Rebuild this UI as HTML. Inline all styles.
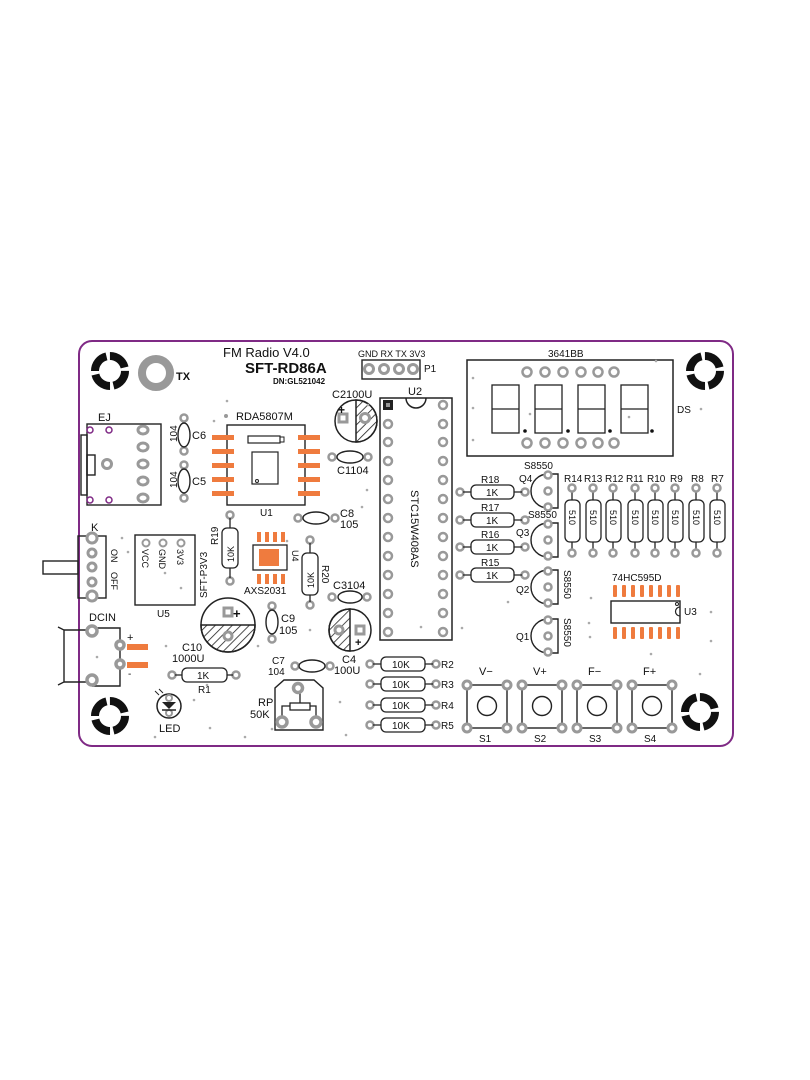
<!DOCTYPE html>
<html><head><meta charset="utf-8"><style>
html,body{margin:0;padding:0;background:#fff}
svg{display:block}
text{font-family:"Liberation Sans","DejaVu Sans",sans-serif;fill:#111}
</style></head><body>
<svg width="810" height="1080" viewBox="0 0 810 1080" xmlns="http://www.w3.org/2000/svg">
<defs>
<pattern id="h" width="6" height="6" patternUnits="userSpaceOnUse" patternTransform="rotate(45)"><line x1="0" y1="0" x2="0" y2="6" stroke="#222" stroke-width="1.6"/></pattern>
</defs>
<rect x="79" y="341" width="654" height="405" rx="13" fill="#fff" stroke="#7f2a85" stroke-width="2"/>

<!-- mounting holes -->
<g fill="none">
<circle cx="110" cy="371" r="15" stroke="#111" stroke-width="8" stroke-dasharray="20 3.5"/>
<circle cx="705" cy="371" r="15" stroke="#111" stroke-width="8" stroke-dasharray="20 3.5"/>
<circle cx="110" cy="716" r="15" stroke="#111" stroke-width="8" stroke-dasharray="20 3.5"/>
<circle cx="700" cy="712" r="15" stroke="#111" stroke-width="8" stroke-dasharray="20 3.5"/>
<circle cx="156" cy="373" r="14" stroke="#999" stroke-width="8"/>
</g>
<text x="176" y="380" font-size="11" font-weight="bold">TX</text>

<text x="223" y="357" font-size="13">FM Radio V4.0</text>
<text x="245" y="373" font-size="15" font-weight="bold">SFT-RD86A</text>
<text x="273" y="384" font-size="8" font-weight="bold">DN:GL521042</text>

<!-- P1 -->
<text x="358" y="357" font-size="9">GND RX TX 3V3</text>
<rect x="362" y="360" width="58" height="19" fill="none" stroke="#222" stroke-width="1.4"/>
<g fill="none" stroke="#999" stroke-width="3">
<circle cx="369" cy="369" r="4.5"/><circle cx="384" cy="369" r="4.5"/><circle cx="399" cy="369" r="4.5"/><circle cx="413" cy="369" r="4.5"/>
</g>
<text x="424" y="372" font-size="10">P1</text>

<!-- C2 -->
<text x="332" y="398" font-size="11">C2100U</text>
<circle cx="356" cy="421" r="21" fill="#fff" stroke="#222" stroke-width="1.5"/>
<path d="M356 400 A21 21 0 0 1 356 442 Z" fill="url(#h)" stroke="#222" stroke-width="1.5"/>
<rect x="339" y="414" width="8" height="8" fill="none" stroke="#999" stroke-width="3"/>
<circle cx="365" cy="418" r="4.5" fill="#fff" stroke="#999" stroke-width="3"/>
<text x="338" y="414" font-size="12" font-weight="bold">+</text>

<!-- U2 -->
<text x="408" y="395" font-size="11">U2</text>
<rect x="380" y="398" width="72" height="242" fill="none" stroke="#222" stroke-width="1.5"/>
<path d="M406 398 A10 10 0 0 0 426 398" fill="none" stroke="#222" stroke-width="1.5"/>
<rect x="383" y="400" width="10" height="10" fill="#222"/>
<rect x="386" y="403" width="4" height="4" fill="#999"/>
<g fill="none" stroke="#999" stroke-width="2.5">
<circle cx="388" cy="424" r="4"/><circle cx="388" cy="442" r="4"/><circle cx="388" cy="461" r="4"/><circle cx="388" cy="480" r="4"/><circle cx="388" cy="499" r="4"/><circle cx="388" cy="518" r="4"/><circle cx="388" cy="537" r="4"/><circle cx="388" cy="556" r="4"/><circle cx="388" cy="575" r="4"/><circle cx="388" cy="594" r="4"/><circle cx="388" cy="613" r="4"/><circle cx="388" cy="632" r="4"/>
<circle cx="443" cy="405" r="4"/><circle cx="443" cy="424" r="4"/><circle cx="443" cy="442" r="4"/><circle cx="443" cy="461" r="4"/><circle cx="443" cy="480" r="4"/><circle cx="443" cy="499" r="4"/><circle cx="443" cy="518" r="4"/><circle cx="443" cy="537" r="4"/><circle cx="443" cy="556" r="4"/><circle cx="443" cy="575" r="4"/><circle cx="443" cy="594" r="4"/><circle cx="443" cy="613" r="4"/><circle cx="443" cy="632" r="4"/>
</g>
<text transform="translate(411,490) rotate(90)" font-size="11">STC15W408AS</text>

<!-- Display -->
<text x="548" y="357" font-size="10">3641BB</text>
<rect x="467" y="360" width="206" height="96" fill="none" stroke="#222" stroke-width="1.5"/>
<g fill="none" stroke="#999" stroke-width="2.5">
<circle cx="527" cy="372" r="4.5"/><circle cx="545" cy="372" r="4.5"/><circle cx="563" cy="372" r="4.5"/><circle cx="581" cy="372" r="4.5"/><circle cx="598" cy="372" r="4.5"/><circle cx="614" cy="372" r="4.5"/>
<circle cx="527" cy="443" r="4.5"/><circle cx="545" cy="443" r="4.5"/><circle cx="563" cy="443" r="4.5"/><circle cx="581" cy="443" r="4.5"/><circle cx="598" cy="443" r="4.5"/><circle cx="614" cy="443" r="4.5"/>
</g>
<g fill="none" stroke="#222" stroke-width="1.3">
<rect x="492" y="385" width="27" height="48"/><line x1="492" y1="409" x2="519" y2="409"/>
<rect x="535" y="385" width="27" height="48"/><line x1="535" y1="409" x2="562" y2="409"/>
<rect x="578" y="385" width="27" height="48"/><line x1="578" y1="409" x2="605" y2="409"/>
<rect x="621" y="385" width="27" height="48"/><line x1="621" y1="409" x2="648" y2="409"/>
</g>
<g fill="#111"><circle cx="525" cy="431" r="1.8"/><circle cx="568" cy="431" r="1.8"/><circle cx="610" cy="431" r="1.8"/><circle cx="652" cy="431" r="1.8"/></g>
<text x="677" y="413" font-size="10">DS</text>

<!-- EJ -->
<text x="98" y="421" font-size="11">EJ</text>
<g fill="none" stroke="#222" stroke-width="1.4">
<rect x="87" y="424" width="74" height="81"/>
<rect x="81" y="435" width="6" height="60"/>
<rect x="87" y="455" width="8" height="20"/>
</g>
<g fill="none" stroke="#7f2a85" stroke-width="1.5"><circle cx="90" cy="430" r="3"/><circle cx="109" cy="430" r="3"/><circle cx="90" cy="500" r="3"/><circle cx="109" cy="500" r="3"/></g>
<g fill="none" stroke="#999" stroke-width="3">
<circle cx="107" cy="464" r="4.5"/>
<ellipse cx="143" cy="430" rx="5" ry="4"/><ellipse cx="143" cy="447" rx="5" ry="4"/><ellipse cx="143" cy="464" rx="5" ry="4"/><ellipse cx="143" cy="481" rx="5" ry="4"/><ellipse cx="143" cy="498" rx="5" ry="4"/>
</g>

<!-- C6 C5 -->
<g fill="none" stroke="#999" stroke-width="2.5"><circle cx="184" cy="418" r="3.5"/><circle cx="184" cy="451" r="3.5"/><circle cx="184" cy="465" r="3.5"/><circle cx="184" cy="498" r="3.5"/></g>
<g fill="none" stroke="#222" stroke-width="1.4"><ellipse cx="184" cy="435" rx="6" ry="12"/><ellipse cx="184" cy="481" rx="6" ry="12"/></g>
<text transform="translate(177,442) rotate(-90)" font-size="10">104</text>
<text transform="translate(177,488) rotate(-90)" font-size="10">104</text>
<text x="192" y="439" font-size="11">C6</text>
<text x="192" y="485" font-size="11">C5</text>

<!-- U1 -->
<text x="236" y="420" font-size="11">RDA5807M</text>
<circle cx="226" cy="416" r="2" fill="#999"/>
<rect x="227" y="425" width="78" height="80" fill="none" stroke="#222" stroke-width="1.4"/>
<rect x="248" y="436" width="32" height="7" fill="none" stroke="#222" stroke-width="1.2"/>
<rect x="280" y="437" width="4" height="5" fill="none" stroke="#222" stroke-width="1"/>
<rect x="252" y="452" width="26" height="32" fill="none" stroke="#222" stroke-width="1.2"/>
<circle cx="257" cy="481" r="1.5" fill="none" stroke="#222"/>
<g fill="#ef7b3e">
<rect x="212" y="435" width="22" height="5"/><rect x="212" y="449" width="22" height="5"/><rect x="212" y="463" width="22" height="5"/><rect x="212" y="477" width="22" height="5"/><rect x="212" y="491" width="22" height="5"/>
<rect x="298" y="435" width="22" height="5"/><rect x="298" y="449" width="22" height="5"/><rect x="298" y="463" width="22" height="5"/><rect x="298" y="477" width="22" height="5"/><rect x="298" y="491" width="22" height="5"/>
</g>
<text x="260" y="516" font-size="10">U1</text>

<!-- C1 -->
<g fill="none" stroke="#999" stroke-width="2.5"><circle cx="332" cy="457" r="3.5"/><circle cx="368" cy="457" r="3.5"/><circle cx="298" cy="518" r="3.5"/><circle cx="335" cy="518" r="3.5"/><circle cx="332" cy="597" r="3.5"/><circle cx="367" cy="597" r="3.5"/><circle cx="272" cy="606" r="3.5"/><circle cx="272" cy="639" r="3.5"/><circle cx="295" cy="666" r="3.5"/><circle cx="330" cy="666" r="3.5"/></g>
<g fill="none" stroke="#222" stroke-width="1.4">
<ellipse cx="350" cy="457" rx="13" ry="6"/><ellipse cx="316" cy="518" rx="13" ry="6"/><ellipse cx="350" cy="597" rx="12" ry="6"/><ellipse cx="272" cy="622" rx="6" ry="12"/><ellipse cx="312" cy="666" rx="13" ry="6"/>
</g>
<text x="337" y="474" font-size="11">C1104</text>
<text x="340" y="517" font-size="11">C8</text><text x="340" y="528" font-size="11">105</text>
<text x="333" y="589" font-size="11">C3104</text>
<text x="281" y="622" font-size="11">C9</text><text x="279" y="634" font-size="11">105</text>
<text x="272" y="664" font-size="10">C7</text><text x="268" y="675" font-size="10">104</text>

<!-- K -->
<text x="91" y="531" font-size="11">K</text>
<rect x="78" y="536" width="28" height="62" fill="none" stroke="#222" stroke-width="1.4"/>
<rect x="43" y="561" width="35" height="13" fill="none" stroke="#222" stroke-width="1.4"/>
<g fill="#fff" stroke="#999" stroke-width="3"><circle cx="92" cy="538" r="5"/><circle cx="92" cy="553" r="4"/><circle cx="92" cy="567" r="4"/><circle cx="92" cy="582" r="4"/><circle cx="92" cy="596" r="5"/></g>
<text transform="translate(111,549) rotate(90)" font-size="9">ON</text>
<text transform="translate(111,572) rotate(90)" font-size="9">OFF</text>

<!-- U5 -->
<rect x="135" y="535" width="60" height="70" fill="none" stroke="#222" stroke-width="1.4"/>
<g fill="none" stroke="#999" stroke-width="2"><circle cx="146" cy="543" r="3.5"/><circle cx="163" cy="543" r="3.5"/><circle cx="181" cy="543" r="3.5"/></g>
<text transform="translate(142,549) rotate(90)" font-size="9">VCC</text>
<text transform="translate(159,549) rotate(90)" font-size="9">GND</text>
<text transform="translate(177,549) rotate(90)" font-size="9">3V3</text>
<text transform="translate(207,598) rotate(-90)" font-size="10">SFT-P3V3</text>
<text x="157" y="617" font-size="10">U5</text>

<!-- R19 U4 R20 -->
<g fill="none" stroke="#999" stroke-width="2.5"><circle cx="230" cy="515" r="3.5"/><circle cx="230" cy="581" r="3.5"/><circle cx="310" cy="540" r="3.5"/><circle cx="310" cy="605" r="3.5"/></g>
<line x1="230" y1="518" x2="230" y2="578" stroke="#222" stroke-width="1.3"/>
<line x1="310" y1="543" x2="310" y2="602" stroke="#222" stroke-width="1.3"/>
<rect x="222" y="528" width="16" height="40" rx="5" fill="#fff" stroke="#222" stroke-width="1.3"/>
<rect x="302" y="553" width="16" height="42" rx="5" fill="#fff" stroke="#222" stroke-width="1.3"/>
<text transform="translate(234,562) rotate(-90)" font-size="9">10K</text>
<text transform="translate(314,588) rotate(-90)" font-size="9">10K</text>
<text transform="translate(218,545) rotate(-90)" font-size="10">R19</text>
<text transform="translate(322,565) rotate(90)" font-size="10">R20</text>
<rect x="253" y="545" width="34" height="25" fill="none" stroke="#222" stroke-width="1.3"/>
<rect x="259" y="549" width="20" height="17" fill="#ef7b3e"/>
<g fill="#ef7b3e"><rect x="257" y="532" width="4" height="10"/><rect x="265" y="532" width="4" height="10"/><rect x="273" y="532" width="4" height="10"/><rect x="281" y="532" width="4" height="10"/><rect x="257" y="574" width="4" height="10"/><rect x="265" y="574" width="4" height="10"/><rect x="273" y="574" width="4" height="10"/><rect x="281" y="574" width="4" height="10"/></g>
<text transform="translate(292,550) rotate(90)" font-size="9">U4</text>
<text x="244" y="594" font-size="10">AXS2031</text>

<!-- C10 -->
<circle cx="228" cy="625" r="27" fill="#fff" stroke="#222" stroke-width="1.5"/>
<path d="M201 625 A27 27 0 0 0 255 625 Z" fill="url(#h)" stroke="#222" stroke-width="1.5"/>
<rect x="224" y="608" width="8" height="8" fill="#fff" stroke="#999" stroke-width="3"/>
<circle cx="228" cy="636" r="4" fill="#fff" stroke="#999" stroke-width="3"/>
<text x="233" y="618" font-size="13" font-weight="bold">+</text>
<text x="182" y="651" font-size="11">C10</text><text x="172" y="662" font-size="11">1000U</text>

<!-- C4 -->
<circle cx="350" cy="630" r="21" fill="#fff" stroke="#222" stroke-width="1.5"/>
<path d="M350 609 A21 21 0 0 0 350 651 Z" fill="url(#h)" stroke="#222" stroke-width="1.5"/>
<circle cx="339" cy="630" r="4" fill="#fff" stroke="#999" stroke-width="3"/>
<rect x="356" y="626" width="8" height="8" fill="#fff" stroke="#999" stroke-width="3"/>
<text x="355" y="646" font-size="11" font-weight="bold">+</text>
<text x="342" y="663" font-size="11">C4</text><text x="334" y="674" font-size="11">100U</text>

<!-- DCIN -->
<text x="89" y="621" font-size="11">DCIN</text>
<g fill="none" stroke="#222" stroke-width="1.4">
<polyline points="92,628 120,628 120,686 92,686"/>
<path d="M58 627 L64 630 L64 682 L58 685"/>
<line x1="64" y1="630" x2="92" y2="630"/><line x1="64" y1="682" x2="92" y2="682"/>
</g>
<g fill="#fff" stroke="#999" stroke-width="3.5"><circle cx="92" cy="631" r="5"/><circle cx="92" cy="680" r="5"/><circle cx="120" cy="645" r="4"/><circle cx="120" cy="664" r="4"/></g>
<rect x="127" y="644" width="21" height="6" fill="#ef7b3e"/><rect x="127" y="662" width="21" height="6" fill="#ef7b3e"/>
<text x="127" y="641" font-size="11">+</text><text x="128" y="677" font-size="10">-</text>

<!-- R1 -->
<g fill="none" stroke="#999" stroke-width="2.5"><circle cx="172" cy="675" r="3.5"/><circle cx="236" cy="675" r="3.5"/></g>
<line x1="175" y1="675" x2="233" y2="675" stroke="#222" stroke-width="1.3"/>
<rect x="182" y="668" width="45" height="14" rx="5" fill="#fff" stroke="#222" stroke-width="1.3"/>
<text x="197" y="679" font-size="10">1K</text>
<text x="198" y="693" font-size="10">R1</text>

<!-- LED -->
<circle cx="169" cy="706" r="12" fill="none" stroke="#222" stroke-width="1.5"/>
<circle cx="169" cy="698" r="3" fill="none" stroke="#999" stroke-width="2"/>
<circle cx="169" cy="713" r="3" fill="none" stroke="#999" stroke-width="2"/>
<path d="M162 702 L176 702 L169 709 Z" fill="#222"/><line x1="162" y1="710" x2="176" y2="710" stroke="#222" stroke-width="1.5"/>
<line x1="155" y1="691" x2="159" y2="695" stroke="#222"/><line x1="159" y1="689" x2="163" y2="693" stroke="#222"/>
<text x="159" y="732" font-size="11">LED</text>

<!-- RP -->
<path d="M275 730 L275 688 L284 680 L314 680 L323 688 L323 730 Z" fill="none" stroke="#222" stroke-width="1.4"/>
<rect x="290" y="703" width="20" height="7" fill="none" stroke="#222" stroke-width="1.3"/>
<polyline points="282,718 282,706 290,706" fill="none" stroke="#222" stroke-width="1.3"/>
<polyline points="316,718 316,706 310,706" fill="none" stroke="#222" stroke-width="1.3"/>
<line x1="300" y1="692" x2="300" y2="703" stroke="#222" stroke-width="1.3"/>
<g fill="#fff" stroke="#999" stroke-width="3.5"><circle cx="298" cy="688" r="4.5"/><circle cx="282" cy="722" r="5"/><circle cx="316" cy="722" r="5"/></g>
<text x="258" y="706" font-size="11">RP</text><text x="250" y="718" font-size="11">50K</text>

<!-- R2-R5 -->
<g fill="none" stroke="#999" stroke-width="2.5">
<circle cx="370" cy="664" r="3.5"/><circle cx="436" cy="664" r="3.5"/><circle cx="370" cy="684" r="3.5"/><circle cx="436" cy="684" r="3.5"/><circle cx="370" cy="705" r="3.5"/><circle cx="436" cy="705" r="3.5"/><circle cx="370" cy="725" r="3.5"/><circle cx="436" cy="725" r="3.5"/>
</g>
<g stroke="#222" stroke-width="1.3"><line x1="373" y1="664" x2="433" y2="664"/><line x1="373" y1="684" x2="433" y2="684"/><line x1="373" y1="705" x2="433" y2="705"/><line x1="373" y1="725" x2="433" y2="725"/></g>
<g fill="#fff" stroke="#222" stroke-width="1.3"><rect x="381" y="657" width="44" height="14" rx="5"/><rect x="381" y="677" width="44" height="14" rx="5"/><rect x="381" y="698" width="44" height="14" rx="5"/><rect x="381" y="718" width="44" height="14" rx="5"/></g>
<g font-size="10"><text x="392" y="668">10K</text><text x="392" y="688">10K</text><text x="392" y="709">10K</text><text x="392" y="729">10K</text></g>
<g font-size="10"><text x="441" y="668">R2</text><text x="441" y="688">R3</text><text x="441" y="709">R4</text><text x="441" y="729">R5</text></g>

<!-- R15-R18 -->
<g fill="none" stroke="#999" stroke-width="2.5">
<circle cx="460" cy="492" r="3.5"/><circle cx="525" cy="492" r="3.5"/><circle cx="460" cy="520" r="3.5"/><circle cx="525" cy="520" r="3.5"/><circle cx="460" cy="547" r="3.5"/><circle cx="525" cy="547" r="3.5"/><circle cx="460" cy="575" r="3.5"/><circle cx="525" cy="575" r="3.5"/>
</g>
<g stroke="#222" stroke-width="1.3"><line x1="463" y1="492" x2="522" y2="492"/><line x1="463" y1="520" x2="522" y2="520"/><line x1="463" y1="547" x2="522" y2="547"/><line x1="463" y1="575" x2="522" y2="575"/></g>
<g fill="#fff" stroke="#222" stroke-width="1.3"><rect x="471" y="485" width="43" height="14" rx="5"/><rect x="471" y="513" width="43" height="14" rx="5"/><rect x="471" y="540" width="43" height="14" rx="5"/><rect x="471" y="568" width="43" height="14" rx="5"/></g>
<g font-size="10"><text x="486" y="496">1K</text><text x="486" y="524">1K</text><text x="486" y="551">1K</text><text x="486" y="579">1K</text></g>
<g font-size="10"><text x="481" y="483">R18</text><text x="481" y="511">R17</text><text x="481" y="538">R16</text><text x="481" y="566">R15</text></g>

<!-- Transistors -->
<g fill="none" stroke="#222" stroke-width="1.4">
<path d="M548 474 A17 17 0 0 0 548 508 L558 508 L558 474 Z"/>
<path d="M548 523 A17 17 0 0 0 548 557 L558 557 L558 523 Z"/>
<path d="M548 570 A17 17 0 0 0 548 604 L558 604 L558 570 Z"/>
<path d="M548 619 A17 17 0 0 0 548 653 L558 653 L558 619 Z"/>
</g>
<g fill="#fff" stroke="#999" stroke-width="2.5">
<circle cx="548" cy="475" r="3.5"/><circle cx="548" cy="491" r="3.5"/><circle cx="548" cy="507" r="3.5"/>
<circle cx="548" cy="524" r="3.5"/><circle cx="548" cy="540" r="3.5"/><circle cx="548" cy="556" r="3.5"/>
<circle cx="548" cy="571" r="3.5"/><circle cx="548" cy="587" r="3.5"/><circle cx="548" cy="603" r="3.5"/>
<circle cx="548" cy="620" r="3.5"/><circle cx="548" cy="636" r="3.5"/><circle cx="548" cy="652" r="3.5"/>
</g>
<g font-size="10">
<text x="524" y="469">S8550</text><text x="519" y="482">Q4</text>
<text x="528" y="518">S8550</text><text x="516" y="536">Q3</text>
<text x="516" y="593">Q2</text><text x="516" y="640">Q1</text>
</g>
<text transform="translate(564,570) rotate(90)" font-size="10">S8550</text>
<text transform="translate(564,618) rotate(90)" font-size="10">S8550</text>

<!-- R7-R14 -->
<g font-size="10"><text x="564" y="482">R14</text><text x="584" y="482">R13</text><text x="605" y="482">R12</text><text x="626" y="482">R11</text><text x="647" y="482">R10</text><text x="670" y="482">R9</text><text x="691" y="482">R8</text><text x="711" y="482">R7</text></g>
<g stroke="#222" stroke-width="1.3">
<line x1="572" y1="490" x2="572" y2="552"/><line x1="593" y1="490" x2="593" y2="552"/><line x1="613" y1="490" x2="613" y2="552"/><line x1="635" y1="490" x2="635" y2="552"/><line x1="655" y1="490" x2="655" y2="552"/><line x1="675" y1="490" x2="675" y2="552"/><line x1="696" y1="490" x2="696" y2="552"/><line x1="717" y1="490" x2="717" y2="552"/>
</g>
<g fill="#fff" stroke="#222" stroke-width="1.3">
<rect x="565" y="500" width="15" height="42" rx="5"/><rect x="586" y="500" width="15" height="42" rx="5"/><rect x="606" y="500" width="15" height="42" rx="5"/><rect x="628" y="500" width="15" height="42" rx="5"/><rect x="648" y="500" width="15" height="42" rx="5"/><rect x="668" y="500" width="15" height="42" rx="5"/><rect x="689" y="500" width="15" height="42" rx="5"/><rect x="710" y="500" width="15" height="42" rx="5"/>
</g>
<g fill="#fff" stroke="#999" stroke-width="2.5">
<circle cx="572" cy="488" r="3.5"/><circle cx="593" cy="488" r="3.5"/><circle cx="613" cy="488" r="3.5"/><circle cx="635" cy="488" r="3.5"/><circle cx="655" cy="488" r="3.5"/><circle cx="675" cy="488" r="3.5"/><circle cx="696" cy="488" r="3.5"/><circle cx="717" cy="488" r="3.5"/>
<circle cx="572" cy="553" r="3.5"/><circle cx="593" cy="553" r="3.5"/><circle cx="613" cy="553" r="3.5"/><circle cx="635" cy="553" r="3.5"/><circle cx="655" cy="553" r="3.5"/><circle cx="675" cy="553" r="3.5"/><circle cx="696" cy="553" r="3.5"/><circle cx="717" cy="553" r="3.5"/>
</g>
<g font-size="9">
<text transform="translate(569,510) rotate(90)">510</text><text transform="translate(590,510) rotate(90)">510</text><text transform="translate(610,510) rotate(90)">510</text><text transform="translate(632,510) rotate(90)">510</text><text transform="translate(652,510) rotate(90)">510</text><text transform="translate(672,510) rotate(90)">510</text><text transform="translate(693,510) rotate(90)">510</text><text transform="translate(714,510) rotate(90)">510</text>
</g>

<!-- U3 -->
<text x="612" y="581" font-size="10">74HC595D</text>
<rect x="611" y="601" width="69" height="22" fill="none" stroke="#222" stroke-width="1.4"/>
<path d="M680 607 A4 4 0 0 0 680 616" fill="none" stroke="#222" stroke-width="1.2"/>
<circle cx="677" cy="604" r="1.5" fill="none" stroke="#222"/>
<g fill="#ef7b3e">
<rect x="613" y="585" width="4" height="12" rx="1"/><rect x="622" y="585" width="4" height="12" rx="1"/><rect x="631" y="585" width="4" height="12" rx="1"/><rect x="640" y="585" width="4" height="12" rx="1"/><rect x="649" y="585" width="4" height="12" rx="1"/><rect x="658" y="585" width="4" height="12" rx="1"/><rect x="667" y="585" width="4" height="12" rx="1"/><rect x="676" y="585" width="4" height="12" rx="1"/>
<rect x="613" y="627" width="4" height="12" rx="1"/><rect x="622" y="627" width="4" height="12" rx="1"/><rect x="631" y="627" width="4" height="12" rx="1"/><rect x="640" y="627" width="4" height="12" rx="1"/><rect x="649" y="627" width="4" height="12" rx="1"/><rect x="658" y="627" width="4" height="12" rx="1"/><rect x="667" y="627" width="4" height="12" rx="1"/><rect x="676" y="627" width="4" height="12" rx="1"/>
</g>
<text x="684" y="615" font-size="10">U3</text>

<!-- Buttons -->
<g fill="none" stroke="#222" stroke-width="1.4">
<rect x="467" y="685" width="40" height="43"/><circle cx="487" cy="706" r="9.5"/>
<rect x="522" y="685" width="40" height="43"/><circle cx="542" cy="706" r="9.5"/>
<rect x="577" y="685" width="40" height="43"/><circle cx="597" cy="706" r="9.5"/>
<rect x="632" y="685" width="40" height="43"/><circle cx="652" cy="706" r="9.5"/>
</g>
<g fill="#fff" stroke="#999" stroke-width="3">
<circle cx="467" cy="685" r="4"/><circle cx="507" cy="685" r="4"/><circle cx="467" cy="728" r="4"/><circle cx="507" cy="728" r="4"/>
<circle cx="522" cy="685" r="4"/><circle cx="562" cy="685" r="4"/><circle cx="522" cy="728" r="4"/><circle cx="562" cy="728" r="4"/>
<circle cx="577" cy="685" r="4"/><circle cx="617" cy="685" r="4"/><circle cx="577" cy="728" r="4"/><circle cx="617" cy="728" r="4"/>
<circle cx="632" cy="685" r="4"/><circle cx="672" cy="685" r="4"/><circle cx="632" cy="728" r="4"/><circle cx="672" cy="728" r="4"/>
</g>
<g font-size="11"><text x="479" y="675">V−</text><text x="533" y="675">V+</text><text x="588" y="675">F−</text><text x="643" y="675">F+</text></g>
<g font-size="10"><text x="479" y="742">S1</text><text x="534" y="742">S2</text><text x="589" y="742">S3</text><text x="644" y="742">S4</text></g>

<!-- vias -->
<g fill="#aaa">
<circle cx="214" cy="421" r="1.3"/><circle cx="227" cy="401" r="1.3"/><circle cx="368" cy="405" r="1.3"/><circle cx="367" cy="490" r="1.3"/><circle cx="362" cy="507" r="1.3"/><circle cx="287" cy="541" r="1.3"/><circle cx="122" cy="538" r="1.3"/><circle cx="128" cy="552" r="1.3"/><circle cx="165" cy="573" r="1.3"/><circle cx="181" cy="588" r="1.3"/><circle cx="97" cy="657" r="1.3"/><circle cx="166" cy="646" r="1.3"/><circle cx="258" cy="646" r="1.3"/><circle cx="207" cy="685" r="1.3"/><circle cx="194" cy="700" r="1.3"/><circle cx="210" cy="728" r="1.3"/><circle cx="155" cy="737" r="1.3"/><circle cx="245" cy="737" r="1.3"/><circle cx="340" cy="702" r="1.3"/><circle cx="346" cy="735" r="1.3"/><circle cx="272" cy="729" r="1.3"/><circle cx="310" cy="630" r="1.3"/><circle cx="421" cy="627" r="1.3"/><circle cx="473" cy="378" r="1.3"/><circle cx="656" cy="361" r="1.3"/><circle cx="473" cy="408" r="1.3"/><circle cx="473" cy="440" r="1.3"/><circle cx="530" cy="414" r="1.3"/><circle cx="629" cy="417" r="1.3"/><circle cx="701" cy="409" r="1.3"/><circle cx="591" cy="598" r="1.3"/><circle cx="589" cy="623" r="1.3"/><circle cx="590" cy="637" r="1.3"/><circle cx="508" cy="602" r="1.3"/><circle cx="711" cy="612" r="1.3"/><circle cx="711" cy="641" r="1.3"/><circle cx="700" cy="674" r="1.3"/><circle cx="651" cy="654" r="1.3"/><circle cx="462" cy="628" r="1.3"/>
</g>
</svg>
</body></html>
